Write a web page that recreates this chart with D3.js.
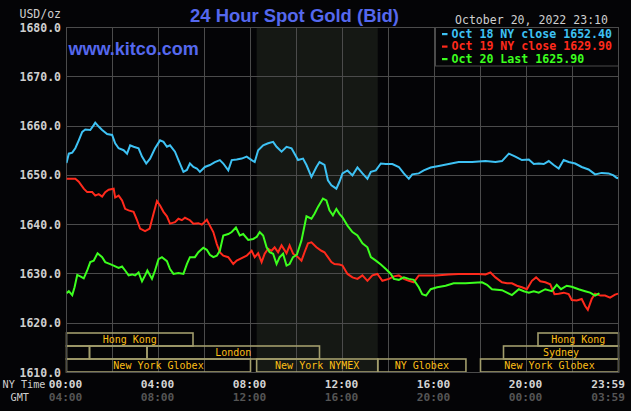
<!DOCTYPE html>
<html><head><meta charset="utf-8">
<script src="https://cdn.jsdelivr.net/npm/d3@7"></script>
<style>html,body{margin:0;padding:0;background:#040406;overflow:hidden}</style>
</head><body><svg id="c" width="631" height="411"></svg>
<script>
// ---------------- data ----------------
const yTicks = [1610, 1620, 1630, 1640, 1650, 1660, 1670, 1680];
const gridMinutes = [0,120,240,360,480,600,720,840,960,1080,1200,1320,1440];
const labelMinutes = [0, 240, 480, 720, 960, 1200, 1439];
const nyTimeLabels = ["00:00","04:00","08:00","12:00","16:00","20:00","23:59"];
const gmtTimeLabels = ["04:00","08:00","12:00","16:00","20:00","00:00","03:59"];
const seriesNames = ["Oct 18 NY close 1652.40","Oct 19 NY close 1629.90","Oct 20 Last 1625.90"];
const nymexShade = [496, 812];

// [minute of NY day, price]
const oct18 = [[0,1652.5],[6,1654.4],[15,1654.6],[23,1655.5],[32,1657.1],[41,1658.8],[49,1659.3],[62,1659.2],[71,1660.2],[75,1660.7],[84,1659.9],[93,1659.2],[106,1658.4],[119,1658.2],[127,1656.5],[136,1655.5],[149,1655.1],[158,1654.4],[166,1656.1],[175,1655.8],[188,1655.5],[197,1653.8],[208,1652.4],[218,1653.4],[231,1655.5],[244,1657.1],[253,1656.8],[262,1655.8],[270,1656.1],[283,1654.8],[292,1653.1],[305,1650.7],[314,1651.1],[322,1652.4],[331,1651.7],[340,1651.4],[348,1650.7],[361,1651.7],[374,1652.1],[387,1652.7],[400,1653.1],[409,1652.4],[422,1651.0],[431,1653.1],[444,1653.2],[457,1653.4],[470,1653.8],[483,1653.1],[491,1652.7],[500,1655.1],[513,1656.1],[526,1656.5],[539,1656.8],[548,1655.8],[561,1654.8],[574,1655.8],[587,1655.5],[595,1654.4],[604,1653.1],[617,1653.4],[626,1652.1],[639,1649.7],[652,1651.7],[660,1652.7],[673,1652.1],[682,1649.0],[691,1648.0],[704,1647.3],[712,1648.7],[720,1650.4],[733,1651.0],[746,1650.0],[759,1651.6],[772,1650.4],[785,1649.3],[794,1650.7],[807,1651.0],[820,1652.4],[833,1652.3],[850,1652.3],[867,1651.7],[880,1650.4],[893,1649.3],[902,1650.2],[919,1650.4],[932,1651.0],[950,1651.6],[971,1651.9],[997,1652.3],[1023,1652.7],[1058,1652.7],[1093,1652.9],[1119,1652.7],[1136,1652.9],[1154,1654.4],[1171,1653.8],[1188,1653.1],[1206,1653.2],[1219,1652.3],[1232,1652.4],[1245,1652.3],[1258,1652.9],[1271,1652.1],[1284,1651.4],[1297,1653.1],[1310,1652.7],[1327,1652.4],[1344,1651.7],[1362,1651.2],[1379,1650.2],[1396,1650.5],[1414,1650.4],[1427,1650.0],[1435,1649.5],[1439,1649.4]];

const oct19 = [[0,1649.3],[10,1649.3],[23,1649.3],[32,1648.7],[45,1647.3],[54,1646.6],[67,1646.6],[75,1645.9],[84,1646.2],[93,1645.7],[101,1646.6],[110,1647.1],[123,1647.3],[127,1645.5],[136,1645.9],[145,1644.9],[153,1643.2],[162,1642.9],[175,1642.6],[184,1640.9],[192,1639.2],[205,1638.7],[217,1639.2],[227,1642.2],[236,1644.8],[244,1643.9],[253,1642.6],[262,1641.7],[270,1640.2],[283,1640.5],[292,1641.2],[301,1640.9],[309,1641.4],[322,1640.9],[331,1640.2],[344,1640.3],[353,1640.0],[366,1641.0],[374,1639.8],[383,1638.5],[392,1636.1],[400,1634.4],[409,1633.7],[422,1633.4],[435,1632.0],[444,1632.7],[457,1633.2],[470,1633.7],[483,1634.7],[491,1633.4],[500,1634.2],[509,1632.4],[517,1634.1],[526,1635.1],[535,1634.7],[543,1635.4],[552,1634.4],[561,1635.8],[574,1634.2],[582,1635.8],[591,1634.1],[604,1633.4],[613,1632.7],[621,1634.4],[630,1636.2],[639,1636.4],[652,1635.4],[665,1634.7],[673,1634.4],[682,1633.4],[691,1632.4],[699,1632.0],[712,1631.9],[720,1631.7],[733,1630.0],[746,1629.3],[759,1629.0],[772,1629.7],[785,1628.6],[798,1629.7],[811,1630.0],[824,1628.6],[841,1629.0],[854,1629.5],[867,1629.7],[880,1629.0],[893,1628.6],[906,1628.3],[919,1629.7],[937,1629.7],[963,1629.7],[997,1629.9],[1023,1630.0],[1075,1630.0],[1093,1629.9],[1106,1630.3],[1119,1629.3],[1136,1628.3],[1149,1628.1],[1162,1628.1],[1175,1627.6],[1188,1627.3],[1201,1626.9],[1214,1628.6],[1225,1629.3],[1236,1628.5],[1249,1628.3],[1262,1627.9],[1273,1625.9],[1284,1626.0],[1297,1626.2],[1310,1625.9],[1318,1624.7],[1331,1624.6],[1344,1624.9],[1353,1623.5],[1360,1622.7],[1370,1624.9],[1379,1626.0],[1393,1625.6],[1405,1625.6],[1418,1625.2],[1431,1625.8],[1439,1626.0]];

const oct20 = [[0,1626.1],[6,1626.5],[15,1625.7],[21,1627.3],[28,1629.8],[36,1629.5],[45,1629.1],[54,1630.7],[62,1632.4],[71,1632.7],[81,1634.2],[93,1633.4],[101,1632.4],[114,1632.0],[123,1631.7],[136,1631.2],[145,1631.5],[153,1630.7],[162,1629.7],[171,1629.9],[179,1629.7],[188,1630.3],[197,1628.5],[205,1629.7],[211,1630.7],[223,1629.0],[231,1630.7],[240,1633.0],[249,1633.4],[262,1632.6],[270,1631.0],[279,1630.0],[292,1630.2],[305,1630.0],[314,1632.0],[322,1633.4],[335,1633.4],[344,1634.4],[357,1635.3],[366,1634.9],[374,1633.9],[383,1633.4],[392,1633.7],[400,1634.7],[409,1637.8],[422,1638.1],[431,1638.5],[442,1639.4],[452,1637.8],[461,1638.1],[474,1636.9],[487,1637.1],[496,1637.5],[504,1638.5],[513,1637.8],[522,1635.4],[530,1634.4],[539,1634.1],[548,1632.0],[556,1633.4],[565,1634.1],[574,1631.7],[582,1632.0],[591,1633.4],[601,1633.9],[613,1636.8],[626,1641.7],[639,1641.2],[647,1642.2],[656,1643.6],[669,1645.3],[678,1644.9],[686,1642.9],[695,1641.9],[704,1643.2],[712,1642.2],[720,1641.5],[733,1639.8],[746,1638.5],[759,1637.8],[772,1636.2],[785,1635.4],[794,1633.4],[807,1632.7],[820,1631.9],[833,1631.0],[846,1630.0],[854,1629.0],[867,1628.8],[880,1629.3],[893,1629.0],[906,1628.8],[919,1627.3],[928,1625.9],[938,1625.6],[950,1626.9],[967,1627.3],[989,1627.6],[1010,1628.1],[1041,1628.1],[1084,1628.3],[1097,1627.8],[1110,1626.9],[1136,1626.7],[1162,1625.7],[1180,1626.9],[1193,1626.5],[1206,1626.2],[1219,1626.5],[1232,1626.2],[1249,1626.9],[1266,1626.5],[1279,1627.8],[1290,1626.9],[1305,1627.6],[1318,1627.4],[1336,1626.9],[1353,1626.5],[1366,1626.2],[1379,1625.6],[1388,1626.0],[1390,1625.9]];

// market sessions: [row, start minute, end minute, label]
const sessions = [
  [0, 0, 330, "Hong Kong"], [0, 1230, 1440, "Hong Kong"],
  [1, 0, 60, ""], [1, 60, 210, ""], [1, 210, 660, "London"], [1, 1140, 1440, "Sydney"],
  [2, 0, 480, "New York Globex"], [2, 496, 812, "New York NYMEX"], [2, 812, 1042, "NY Globex"], [2, 1080, 1440, "New York Globex"]
];

// ---------------- drawing ----------------
const colors = ["#3ec2f4", "#ff2a1c", "#3cff1e"];
const BG = "#040406", GRID = "#4b4b4b", MONO = "'DejaVu Sans Mono', monospace";
const svg = d3.select("#c");
svg.append("rect").attr("width",631).attr("height",411).attr("fill",BG);

const x = d3.scaleLinear().domain([0,1440]).range([66.5,618.5]);
const y = d3.scaleLinear().domain([1610,1680]).range([372.5,27.5]);
const rowBand = d3.scaleBand().domain([0,1,2]).range([333,372]);

// NYMEX shading
svg.append("rect").attr("x",x(nymexShade[0])).attr("y",y(1680))
  .attr("width",x(nymexShade[1])-x(nymexShade[0])).attr("height",y(1610)-y(1680)).attr("fill","#151814");

// grid
const crisp = v => Math.round(v-0.5)+0.5;
svg.append("g").selectAll("line").data(gridMinutes).join("line")
  .attr("x1",d=>crisp(x(d))).attr("x2",d=>crisp(x(d))).attr("y1",y(1680)).attr("y2",y(1610))
  .attr("stroke",GRID).attr("stroke-width",1);
svg.append("g").selectAll("line").data(yTicks).join("line")
  .attr("x1",x(0)).attr("x2",x(1440)).attr("y1",d=>crisp(y(d))).attr("y2",d=>crisp(y(d)))
  .attr("stroke",GRID).attr("stroke-width",1);

// y labels
svg.append("g").selectAll("text").data(yTicks).join("text")
  .attr("x",61).attr("y",d=>y(d)+4).attr("text-anchor","end")
  .attr("font-family",MONO).attr("font-weight","bold").attr("font-size",11.5).attr("fill","#cfcfcf")
  .text(d=>d3.format(".1f")(d));
svg.append("text").attr("x",61).attr("y",17.5).attr("text-anchor","end")
  .attr("font-family",MONO).attr("font-size",11.5).attr("fill","#cfcfcf").text("USD/oz");

// session boxes
const sg = svg.append("g");
sessions.forEach(s=>{
  const x0 = x(s[1]), x1 = x(s[2]), y0 = rowBand(s[0]), h = rowBand.bandwidth();
  sg.append("rect").attr("x",x0).attr("y",y0).attr("width",x1-x0).attr("height",h)
    .attr("fill","none").attr("stroke","#a29d6c").attr("stroke-width",1.6);
  if (s[3]) sg.append("text").attr("x",(x0+x1)/2).attr("y",y0+h-3.3).attr("text-anchor","middle")
    .attr("font-family",MONO).attr("font-size",10).attr("fill","#fcbf16").text(s[3]);
});

// plot border
svg.append("rect").attr("x",x(0)).attr("y",y(1680)).attr("width",x(1440)-x(0)).attr("height",y(1610)-y(1680))
  .attr("fill","none").attr("stroke",GRID).attr("stroke-width",1);

// price lines
svg.append("clipPath").attr("id","pc").append("rect")
  .attr("x",x(0)).attr("y",y(1680)).attr("width",x(1440)-x(0)).attr("height",y(1610)-y(1680));
const line = d3.line().x(d=>x(d[0])).y(d=>y(d[1]));
[oct18, oct19, oct20].forEach((s,i)=>{
  svg.append("path").attr("d",line(s)).attr("fill","none").attr("stroke",colors[i])
    .attr("stroke-width",2).attr("stroke-linejoin","miter").attr("clip-path","url(#pc)");
});

// x labels
svg.append("text").attr("x",2.5).attr("y",387.5).attr("font-family",MONO).attr("font-size",10.2)
  .attr("fill","#cfcfcf").text("NY Time");
svg.append("text").attr("x",10.5).attr("y",400.5).attr("font-family",MONO).attr("font-size",10.2)
  .attr("fill","#cfcfcf").text("GMT");
const last = labelMinutes.length - 1;
const lx = (d,i) => i === last ? 625 : x(d) - 1;
const la = (d,i) => i === last ? "end" : "middle";
svg.append("g").selectAll("text").data(labelMinutes).join("text")
  .attr("x",lx).attr("y",387.5).attr("text-anchor",la)
  .attr("font-family",MONO).attr("font-weight","bold").attr("font-size",11.2).attr("fill","#d4d4d4")
  .text((d,i)=>nyTimeLabels[i]);
svg.append("g").selectAll("text").data(labelMinutes).join("text")
  .attr("x",lx).attr("y",401).attr("text-anchor",la)
  .attr("font-family",MONO).attr("font-weight","bold").attr("font-size",11.2).attr("fill","#555555")
  .text((d,i)=>gmtTimeLabels[i]);

// title & site
svg.append("text").attr("x",294.5).attr("y",22).attr("text-anchor","middle")
  .attr("font-family","'Liberation Sans', Arial, sans-serif").attr("font-weight","bold").attr("font-size",18.5)
  .attr("fill","#5568ee").attr("textLength",209).attr("lengthAdjust","spacingAndGlyphs").text("24 Hour Spot Gold (Bid)");
svg.append("text").attr("x",68.5).attr("y",55).attr("font-family","'Liberation Sans', Arial, sans-serif")
  .attr("font-weight","bold").attr("font-size",18).attr("fill","#5568ee").text("www.kitco.com");
svg.append("text").attr("x",455).attr("y",24).attr("font-family",MONO).attr("font-size",11.5)
  .attr("fill","#cfcfcf").attr("textLength",153).text("October 20, 2022 23:10");

// legend
const lg = svg.append("g");
lg.append("rect").attr("x",435.5).attr("y",27.5).attr("width",183).attr("height",38.5)
  .attr("fill",BG).attr("stroke",GRID).attr("stroke-width",1);
seriesNames.forEach((n,i)=>{
  const by = 37.5 + i*12.5;
  lg.append("rect").attr("x",442).attr("y",by-4.5).attr("width",5.5).attr("height",2.2).attr("fill",colors[i]);
  lg.append("text").attr("x",451.5).attr("y",by).attr("font-family",MONO).attr("font-weight","bold")
    .attr("font-size",11.6).attr("fill",colors[i]).text(n);
});
</script></body></html>
